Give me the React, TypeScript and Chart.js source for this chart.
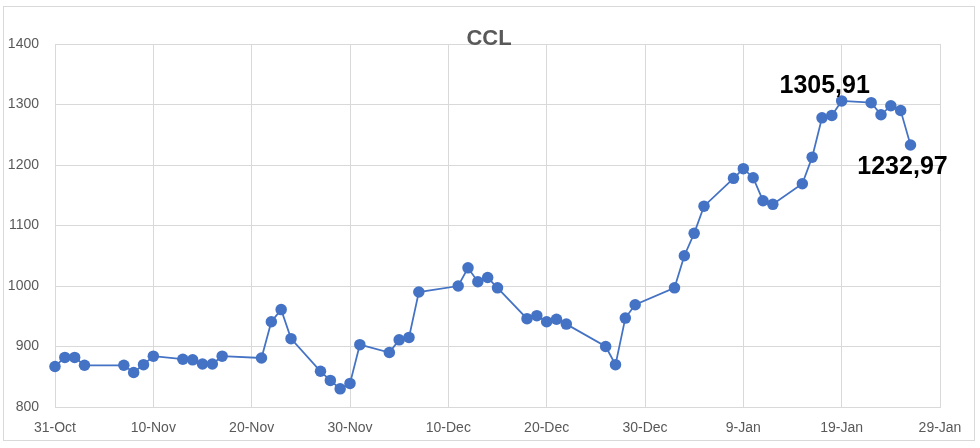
import React, { useEffect, useRef } from "react";
import { Chart, registerables } from "chart.js";

Chart.register(...registerables);

const START_DATE = "2023-10-31";
const dates = [
  "2023-10-31", "2023-11-01", "2023-11-02", "2023-11-03", "2023-11-07", "2023-11-08", "2023-11-09", "2023-11-10",
  "2023-11-13", "2023-11-14", "2023-11-15", "2023-11-16", "2023-11-17", "2023-11-21", "2023-11-22", "2023-11-23",
  "2023-11-24", "2023-11-27", "2023-11-28", "2023-11-29", "2023-11-30", "2023-12-01", "2023-12-04", "2023-12-05",
  "2023-12-06", "2023-12-07", "2023-12-11", "2023-12-12", "2023-12-13", "2023-12-14", "2023-12-15", "2023-12-18",
  "2023-12-19", "2023-12-20", "2023-12-21", "2023-12-22", "2023-12-26", "2023-12-27", "2023-12-28", "2023-12-29",
  "2024-01-02", "2024-01-03", "2024-01-04", "2024-01-05", "2024-01-08", "2024-01-09", "2024-01-10", "2024-01-11",
  "2024-01-12", "2024-01-15", "2024-01-16", "2024-01-17", "2024-01-18", "2024-01-19", "2024-01-22", "2024-01-23",
  "2024-01-24", "2024-01-25", "2024-01-26",
];
const ccl = [
  867, 882, 882, 869, 869, 857, 870, 884,
  879, 878, 871, 871, 884, 881, 941, 961,
  913, 859, 844, 830, 839, 903, 890, 911,
  915, 990, 1000, 1030, 1007, 1014, 997, 946,
  951, 941, 945, 937, 900, 870, 947, 969,
  997, 1050, 1087, 1132, 1178, 1194, 1179, 1141,
  1135, 1169, 1213, 1278, 1282, 1305.91, 1303, 1283,
  1298, 1290, 1232.97,
];
const xTickLabels = ["31-Oct", "10-Nov", "20-Nov", "30-Nov", "10-Dec", "20-Dec", "30-Dec", "9-Jan", "19-Jan", "29-Jan"];
const yTicks = [800, 900, 1000, 1100, 1200, 1300, 1400];
const labelledIndices = [53, 58];
const chartTitle = "CCL";

const DAY = 86400000;
const dayOffset = (d: string) => Math.round((Date.parse(d + "T00:00:00Z") - Date.parse(START_DATE + "T00:00:00Z")) / DAY);

const BLUE = "#4472C4";
const GRID = "#d9d9d9";
const TEXT = "#595959";
const FONT = "'Liberation Sans', Arial, sans-serif";

export default function App() {
  const ref = useRef<HTMLCanvasElement | null>(null);
  useEffect(() => {
    if (!ref.current) return;
    const points = dates.map((d, i) => ({ x: dayOffset(d), y: ccl[i] }));
    const decor = {
      id: "decor",
      beforeDraw(chart: any) {
        const ctx = chart.ctx;
        ctx.save();
        ctx.fillStyle = "#ffffff";
        ctx.fillRect(0, 0, chart.width, chart.height);
        ctx.strokeStyle = GRID;
        ctx.lineWidth = 1;
        ctx.strokeRect(3.5, 6.5, 971, 434);
        ctx.restore();
      },
      afterDraw(chart: any) {
        const ctx = chart.ctx;
        ctx.save();
        ctx.fillStyle = TEXT;
        ctx.font = `bold 22px ${FONT}`;
        ctx.textAlign = "center";
        ctx.textBaseline = "alphabetic";
        ctx.fillText(chartTitle, 489, 45);
        const meta = chart.getDatasetMeta(0);
        ctx.fillStyle = "#000000";
        ctx.font = `bold 25px ${FONT}`;
        labelledIndices.forEach((idx, k) => {
          const el = meta.data[idx];
          const txt = ccl[idx].toFixed(2).replace(".", ",");
          if (k === 0) ctx.fillText(txt, el.x - 17, el.y - 8);
          else ctx.fillText(txt, el.x - 8, el.y + 29);
        });
        ctx.restore();
      },
    };
    const chart = new Chart(ref.current, {
      type: "line",
      data: {
        datasets: [
          {
            label: chartTitle,
            data: points,
            borderColor: BLUE,
            backgroundColor: BLUE,
            borderWidth: 1.75,
            pointRadius: 5.75,
            pointBackgroundColor: BLUE,
            pointBorderColor: BLUE,
            pointBorderWidth: 0,
            tension: 0,
            clip: false,
          },
        ],
      },
      options: {
        animation: false,
        responsive: false,
        devicePixelRatio: 1,
        layout: { padding: { top: 44, right: 40, bottom: 11, left: 0 } },
        plugins: { legend: { display: false }, title: { display: false }, tooltip: { enabled: false } },
        scales: {
          x: {
            type: "linear",
            min: 0,
            max: 90,
            afterFit: (s: any) => { s.height = 30; },
            afterBuildTicks: (s: any) => { s.ticks = xTickLabels.map((_, i) => ({ value: i * 10 })); },
            ticks: {
              stepSize: 10,
              color: TEXT,
              font: { family: FONT, size: 14 },
              padding: 13,
              maxRotation: 0,
              autoSkip: false,
              callback: (v: any) => xTickLabels[Math.round(Number(v) / 10)] ?? "",
            },
            grid: { color: GRID, lineWidth: 1, drawTicks: false },
            border: { color: GRID, width: 1 },
          },
          y: {
            type: "linear",
            min: yTicks[0],
            max: yTicks[yTicks.length - 1],
            afterFit: (s: any) => { s.width = 55; },
            afterBuildTicks: (s: any) => { s.ticks = yTicks.map((v) => ({ value: v })); },
            ticks: {
              color: TEXT,
              font: { family: FONT, size: 14 },
              padding: 16,
              callback: (v: any) => String(v),
            },
            grid: { color: GRID, lineWidth: 1, drawTicks: false },
            border: { color: GRID, width: 1 },
          },
        },
      },
      plugins: [decor],
    });
    return () => chart.destroy();
  }, []);
  return (
    <div style={{ position: "fixed", left: 0, top: 0, width: 980, height: 448, background: "#fff" }}>
      <canvas ref={ref} width={980} height={448} style={{ width: 980, height: 448, display: "block" }} />
    </div>
  );
}
